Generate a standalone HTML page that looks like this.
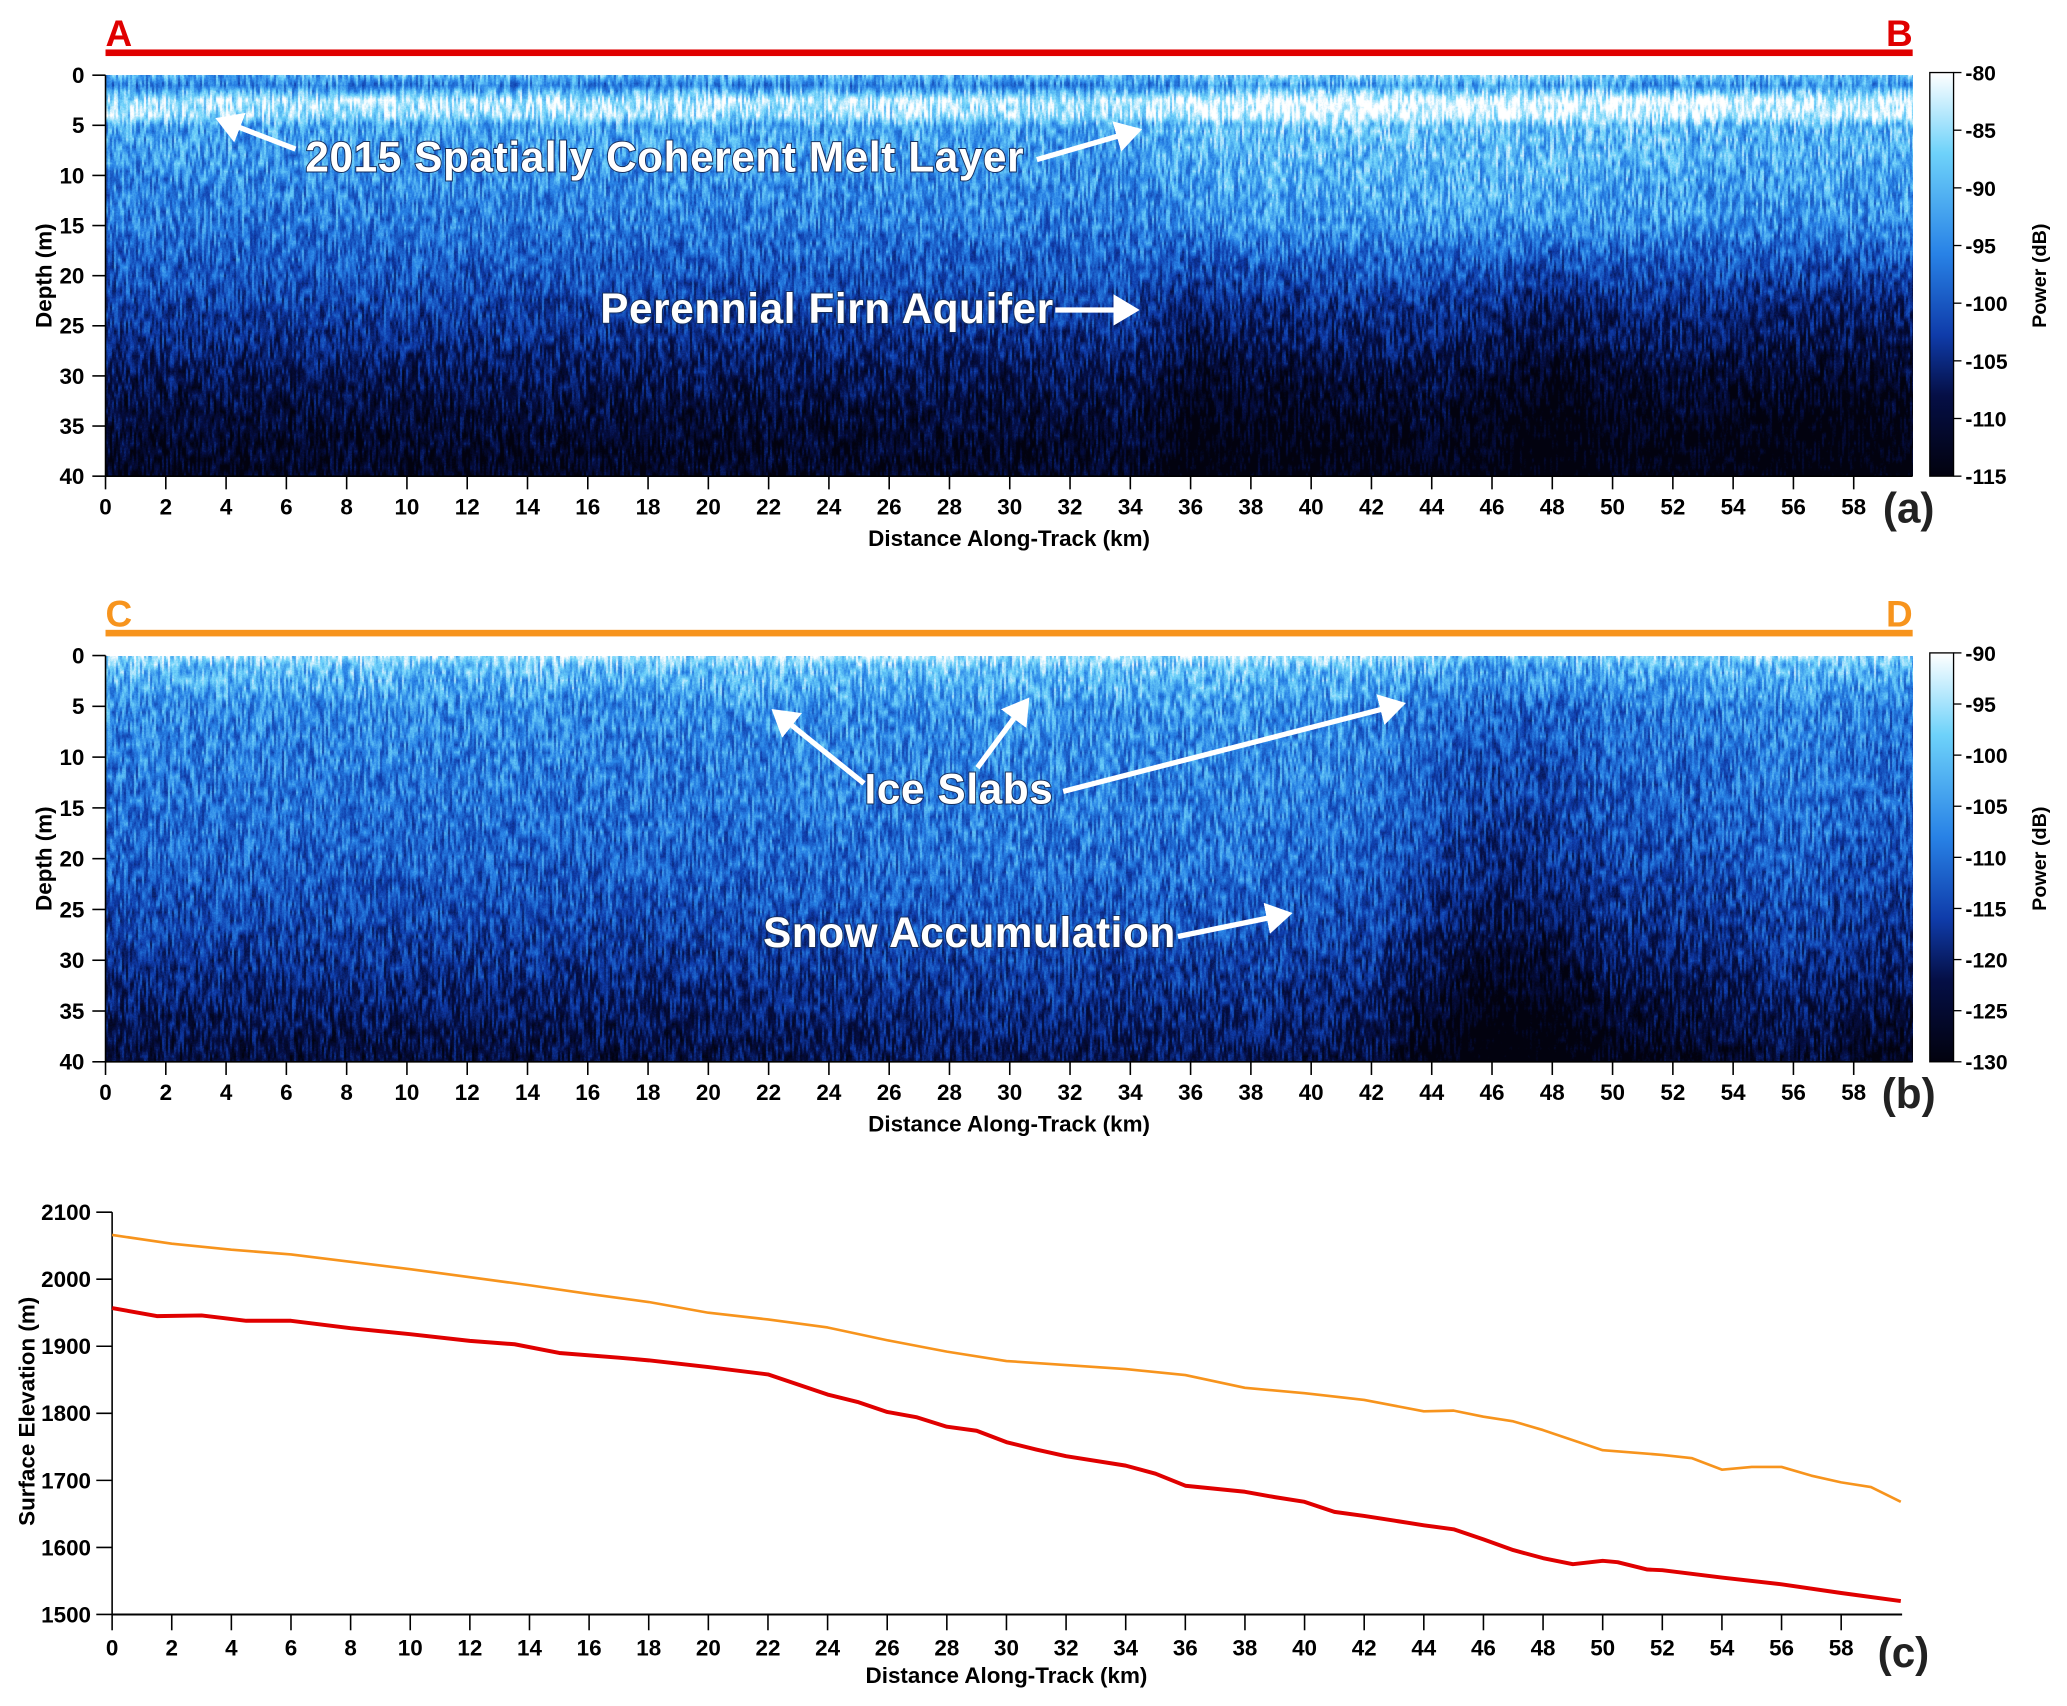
<!DOCTYPE html>
<html><head><meta charset="utf-8">
<style>
html,body{margin:0;padding:0;background:#fff;}
body{width:2067px;height:1706px;position:relative;overflow:hidden;font-family:"Liberation Sans",sans-serif;}
canvas{position:absolute;}
svg{position:absolute;left:0;top:0;}
</style></head>
<body>
<canvas id="ca"></canvas>
<canvas id="cb"></canvas>
<svg id="ov" width="2067" height="1706" viewBox="0 0 1567 1293.4" preserveAspectRatio="none">
<defs>
<linearGradient id="cbar" x1="0" y1="0" x2="0" y2="1">
<stop offset="0" stop-color="#ffffff"/><stop offset="0.2" stop-color="#6ed2fa"/>
<stop offset="0.45" stop-color="#2882e6"/><stop offset="0.65" stop-color="#0f3caa"/>
<stop offset="0.8" stop-color="#050f46"/><stop offset="1" stop-color="#02020f"/>
</linearGradient>
<marker id="ah" markerWidth="6" markerHeight="6" refX="4" refY="3" orient="auto" markerUnits="strokeWidth"><path d="M0,0 L5,3 L0,6 Z" fill="#fff"/></marker>
</defs>
<g id="g"></g>
</svg>
<script>
// ---- data ----
const kmTicks=[0,2,4,6,8,10,12,14,16,18,20,22,24,26,28,30,32,34,36,38,40,42,44,46,48,50,52,54,56,58];
const depthTicks=[0,5,10,15,20,25,30,35,40];
const cbarATicks=[-80,-85,-90,-95,-100,-105,-110,-115];
const cbarBTicks=[-90,-95,-100,-105,-110,-115,-120,-125,-130];
const elevTicks=[1500,1600,1700,1800,1900,2000,2100];
const orangeKm=[0,2,4,6,8,10,12,14,16,18,20,22,24,26,28,30,32,34,36,38,40,42,44,45,46,47,48,50,52,53,54,55,56,57,58,59,60];
const orangeElev=[2066,2053,2044,2037,2026,2015,2003,1991,1978,1966,1950,1940,1928,1909,1892,1878,1872,1866,1857,1838,1830,1820,1803,1804,1795,1788,1775,1745,1738,1733,1716,1720,1720,1707,1697,1690,1668];
const redKm=[0,1.5,3,4.5,6,8,10,12,13.5,15,17,18,20,22,24,25,26,27,28,29,30,31,32,34,35,36,38,39,40,41,42,43,44,45,46,47,48,49,50,50.5,51.5,52,54,56,58,60];
const redElev=[1957,1945,1946,1938,1938,1927,1918,1908,1903,1890,1883,1879,1869,1858,1828,1817,1802,1794,1780,1774,1757,1746,1736,1722,1710,1692,1683,1675,1668,1653,1647,1640,1633,1627,1612,1596,1584,1575,1580,1578,1567,1566,1555,1545,1532,1520];
// radargram mean brightness profiles (0..1)
const depthA=[0,1,2.5,4,5,10,15,20,25,30,35,40];
const profA=[0.72,0.58,0.9,0.86,0.68,0.62,0.56,0.47,0.36,0.22,0.12,0.07];
const colKmA=[0,34,36,38,40,42,44,46,48,50,52,54,56,58,60];
const colOffA=[0,0,-0.14,-0.08,-0.08,-0.06,-0.05,-0.1,-0.18,-0.1,-0.08,-0.1,-0.12,-0.12,-0.12];
const colTopA=[0,0.02,0.06,0.1,0.1,0.1,0.1,0.1,0.1,0.08,0.08,0.06,0.06,0.06,0.06];
const depthB=[0,1,3,5,10,15,20,25,30,35,40];
const profB=[0.87,0.76,0.7,0.62,0.58,0.55,0.51,0.44,0.35,0.25,0.15];
const colKmB=[0,18,22,26,30,34,38,42,44,46,48,50,52,54,56,58,60];
const colOffB=[0,0,0.02,0.04,0.05,0.04,0.05,0.0,-0.12,-0.22,-0.2,-0.1,-0.07,-0.05,0,-0.05,-0.08];

const S=2067/1567;
const PL=80,PR=1450,KPX=22.85;
const XMAX=(PR-PL)/KPX;
const xA=k=>PL+k*KPX;
const g=document.getElementById('g');
const NS='http://www.w3.org/2000/svg';
function el(tag,attrs,txt){const e=document.createElementNS(NS,tag);for(const k in attrs)e.setAttribute(k,attrs[k]);if(txt!==undefined)e.textContent=txt;g.appendChild(e);return e;}
function interp(xs,ys,x){if(x<=xs[0])return ys[0];for(let i=1;i<xs.length;i++){if(x<=xs[i]){const t=(x-xs[i-1])/(xs[i]-xs[i-1]);return ys[i-1]+t*(ys[i]-ys[i-1]);}}return ys[ys.length-1];}
function h(i,j){const s=Math.sin(i*12.9898+j*78.233)*43758.5453;return s-Math.floor(s);}
const cm=[[0,2,2,15],[0.2,5,15,70],[0.4,15,60,170],[0.6,40,130,230],[0.8,110,210,250],[1,255,255,255]];
function col(v){v=Math.max(0,Math.min(1,v));for(let i=1;i<cm.length;i++){if(v<=cm[i][0]){const a=cm[i-1],b=cm[i],t=(v-a[0])/(b[0]-a[0]);return [a[1]+t*(b[1]-a[1]),a[2]+t*(b[2]-a[2]),a[3]+t*(b[3]-a[3])];}}return [255,255,255];}
function drawRadar(id,top,bot,depthArr,prof,ck,co,ct,deepW,seed){
  const c=document.getElementById(id);
  const L=PL*S,T=top*S,W=Math.round((PR-PL)*S),H=Math.round((bot-top)*S);
  c.style.left=L+'px';c.style.top=T+'px';c.width=W;c.height=H;
  const ctx=c.getContext('2d');const im=ctx.createImageData(W,H);const d=im.data;
  const kmPerPx=XMAX/W;
  const colOff=[],colTop=[];for(let x=0;x<W;x++){colOff.push(interp(ck,co,x*kmPerPx));colTop.push(ct?interp(ck,ct,x*kmPerPx):0);}
  const prf=[];for(let y=0;y<H;y++)prf.push(interp(depthArr,prof,y/H*40));
  for(let x=0;x<W;x++){const ix=Math.floor(x/2);
    for(let y=0;y<H;y++){
      const dep=y/H*40;const jy=Math.floor(y/8),t=(y%8)/8;
      const n=(h(ix+seed,jy)*(1-t)+h(ix+seed,jy+1)*t)-0.5;
      const n2=h(x+seed*3,y)-0.5;
      const wd=deepW?Math.max(0,Math.min(1,(dep-14)/10)):(0.4+dep/40);
      const wt=Math.max(0,Math.min(1,(22-dep)/8));
      const v=prf[y]+colOff[x]*wd+colTop[x]*wt+n*0.38+n2*0.08;
      const cc=col(v);const p=(y*W+x)*4;d[p]=cc[0];d[p+1]=cc[1];d[p+2]=cc[2];d[p+3]=255;}}
  ctx.putImageData(im,0,0);
}
drawRadar('ca',57,361,depthA,profA,colKmA,colOffA,colTopA,true,7);
drawRadar('cb',497,805,depthB,profB,colKmB,colOffB,null,false,91);

function radarAxes(top,bot,cticks,letterL,letterR,lineCol,panel,pre){
  const lineY=top-17,letY=top-22;
  let e=el('rect',{x:PL,y:lineY-2.5,width:PR-PL,height:5,fill:lineCol});
  
  e=el('text',{x:PL,y:letY,'font-size':28,'font-weight':'bold',fill:lineCol},letterL);
  
  e=el('text',{x:PR,y:letY,'font-size':28,'font-weight':'bold',fill:lineCol,'text-anchor':'end'},letterR);
  
  const dy=v=>top+(v/40)*(bot-top);
  el('line',{x1:PL,y1:top,x2:PL,y2:bot,stroke:'#000','stroke-width':1.2});
  el('line',{x1:PL,y1:bot,x2:PR,y2:bot,stroke:'#000','stroke-width':1.2});
  depthTicks.forEach(v=>{el('line',{x1:PL-10,y1:dy(v),x2:PL,y2:dy(v),stroke:'#000','stroke-width':1.2});
    const t=el('text',{x:PL-16,y:dy(v)+6,'font-size':17,'font-weight':'bold','text-anchor':'end'},v);
    });
  kmTicks.forEach(v=>{el('line',{x1:xA(v),y1:bot,x2:xA(v),y2:bot+10,stroke:'#000','stroke-width':1.2});
    const t=el('text',{x:xA(v),y:bot+29,'font-size':17,'font-weight':'bold','text-anchor':'middle'},v);
    });
  e=el('text',{x:765,y:bot+53,'font-size':17,'font-weight':'bold','text-anchor':'middle'},'Distance Along-Track (km)');
  
  const cy=(top+bot)/2;
  e=el('text',{x:39,y:cy,'font-size':17,'font-weight':'bold','text-anchor':'middle',transform:`rotate(-90 39 ${cy})`},'Depth (m)');
  
  e=el('rect',{x:1463,y:top-2,width:18,height:bot-top+2,fill:'url(#cbar)',stroke:'#000','stroke-width':1});
  
  const n=cticks.length;
  cticks.forEach((v,i)=>{const y=top-2+i*(bot-top+2)/(n-1);
    el('line',{x1:1481,y1:y,x2:1487,y2:y,stroke:'#000','stroke-width':1});
    const t=el('text',{x:1490,y:y+6,'font-size':16,'font-weight':'bold'},v);
    });
  e=el('text',{x:1551,y:cy,'font-size':15,'font-weight':'bold','text-anchor':'middle',transform:`rotate(-90 1551 ${cy})`},'Power (dB)');
  
  e=el('text',{x:1447,y:bot+35,'font-size':32,'font-weight':'bold','text-anchor':'middle',fill:'#222'},panel);
  
}
radarAxes(57,361,cbarATicks,'A','B','#e00000','(a)','panel-a');
radarAxes(497,805,cbarBTicks,'C','D','#f7941d','(b)','panel-b');

function arrow(x1,y1,x2,y2,name){const e=el('line',{x1,y1,x2,y2,stroke:'#fff','stroke-width':4,'marker-end':'url(#ah)'});
  }
function ann(x,y,txt,name){const e=el('text',{x,y,'font-size':32,'font-weight':'bold',fill:'#fff','text-anchor':'middle',stroke:'#17305e','stroke-width':1.5,'paint-order':'stroke','letter-spacing':'0.5'},txt);
  }
arrow(224,113,167,91,'melt-layer-arrow-left');
arrow(786,121,862,99,'melt-layer-arrow-right');
ann(504,130,'2015 Spatially Coherent Melt Layer','melt-layer-annotation');
arrow(800,235,860,235,'firn-aquifer-arrow');
ann(627,245,'Perennial Firn Aquifer','firn-aquifer-annotation');
arrow(655,594,588,540,'ice-slabs-arrow-1');
arrow(741,582,778,532,'ice-slabs-arrow-2');
arrow(806,600,1062,534,'ice-slabs-arrow-3');
ann(727,609,'Ice Slabs','ice-slabs-annotation');
arrow(893,710,976,693,'snow-accum-arrow');
ann(735,718,'Snow Accumulation','snow-accum-annotation');

// panel c
const CL=85,CT=919,CB=1224,CK=22.6;
const cx=k=>CL+k*CK;
const cyv=v=>CB-(v-1500)/600*(CB-CT);
el('line',{x1:CL,y1:CT,x2:CL,y2:CB,stroke:'#000','stroke-width':1.2});
el('line',{x1:CL,y1:CB,x2:1442,y2:CB,stroke:'#000','stroke-width':1.5});
elevTicks.forEach(v=>{el('line',{x1:CL-12,y1:cyv(v),x2:CL,y2:cyv(v),stroke:'#000','stroke-width':1.2});
  const t=el('text',{x:CL-16,y:cyv(v)+6,'font-size':17,'font-weight':'bold','text-anchor':'end'},v);
  });
kmTicks.forEach(v=>{el('line',{x1:cx(v),y1:CB,x2:cx(v),y2:CB+12,stroke:'#000','stroke-width':1.2});
  const t=el('text',{x:cx(v),y:CB+31,'font-size':17,'font-weight':'bold','text-anchor':'middle'},v);
  });
let e=el('text',{x:763,y:1276,'font-size':17,'font-weight':'bold','text-anchor':'middle'},'Distance Along-Track (km)');

e=el('text',{x:26,y:1070,'font-size':17,'font-weight':'bold','text-anchor':'middle',transform:'rotate(-90 26 1070)'},'Surface Elevation (m)');

e=el('text',{x:1443,y:1264,'font-size':32,'font-weight':'bold','text-anchor':'middle',fill:'#222'},'(c)');

const op=orangeKm.map((k,i)=>cx(k)+','+cyv(orangeElev[i])).join(' ');
e=el('polyline',{points:op,fill:'none',stroke:'#f7941d','stroke-width':2,'stroke-linejoin':'round'});

const rp=redKm.map((k,i)=>cx(k)+','+cyv(redElev[i])).join(' ');
e=el('polyline',{points:rp,fill:'none',stroke:'#e00000','stroke-width':3,'stroke-linejoin':'round'});

</script>
</body></html>
